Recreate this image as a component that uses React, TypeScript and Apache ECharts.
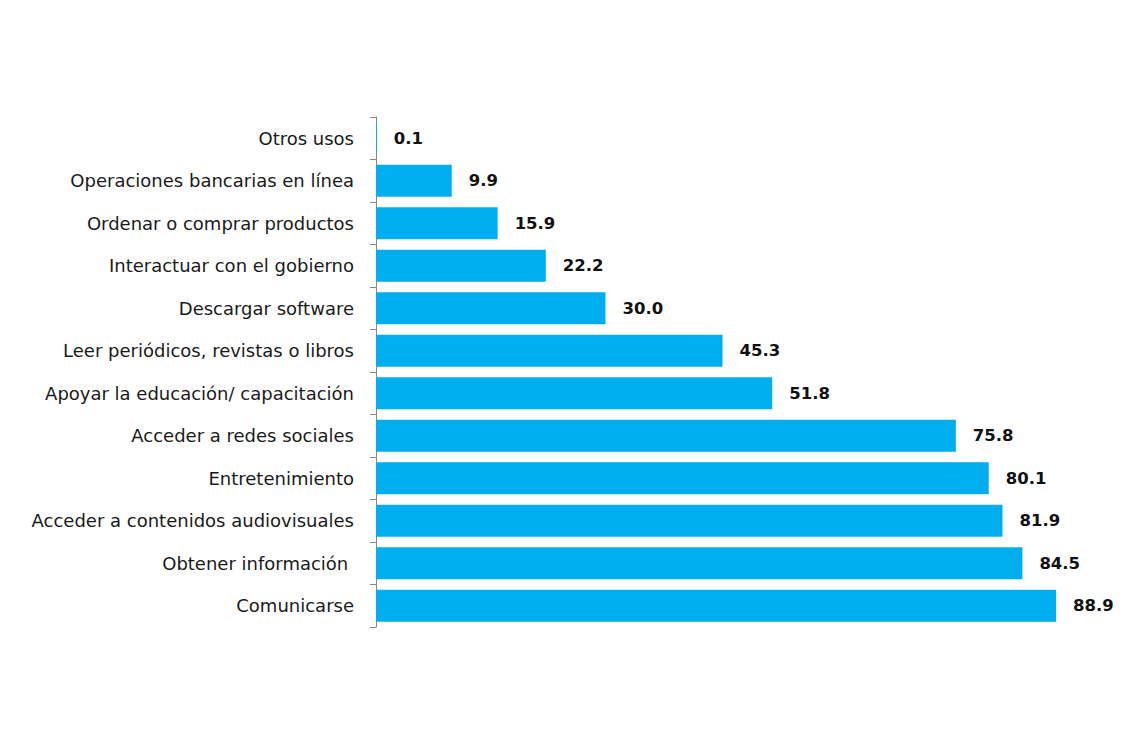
import React, { useEffect, useRef } from "react";
import * as echarts from "echarts";

const categories = [
  "Otros usos",
  "Operaciones bancarias en línea",
  "Ordenar o comprar productos",
  "Interactuar con el gobierno",
  "Descargar software",
  "Leer periódicos, revistas o libros",
  "Apoyar la educación/ capacitación",
  "Acceder a redes sociales",
  "Entretenimiento",
  "Acceder a contenidos audiovisuales",
  "Obtener información ",
  "Comunicarse",
];
const values = [0.1, 9.9, 15.9, 22.2, 30.0, 45.3, 51.8, 75.8, 80.1, 81.9, 84.5, 88.9];

export default function App() {
  const ref = useRef<HTMLDivElement>(null);
  useEffect(() => {
    const chart = echarts.init(ref.current!, null, { renderer: "svg" });
    chart.setOption({
      animation: false,
      backgroundColor: "#ffffff",
      grid: { left: 376, top: 117, width: 726.7, height: 510, containLabel: false },
      xAxis: {
        type: "value",
        min: 0,
        max: 95,
        show: false,
      },
      yAxis: {
        type: "category",
        data: categories,
        inverse: true,
        axisLine: { show: true, lineStyle: { color: "#888888", width: 1 } },
        axisTick: { show: true, length: 6, lineStyle: { color: "#888888" } },
        axisLabel: {
          margin: 22,
          color: "#1a1a1a",
          fontSize: 18,
          fontFamily: "DejaVu Sans",
        },
      },
      series: [
        {
          type: "bar",
          data: values,
          barCategoryGap: "25%",
          itemStyle: { color: "#00AEEF" },
          label: {
            show: true,
            position: "right",
            distance: 17,
            formatter: (p: any) => p.value.toFixed(1),
            fontWeight: "bold",
            fontSize: 16.5,
            color: "#111111",
            fontFamily: "DejaVu Sans",
          },
        },
      ],
    });
    return () => chart.dispose();
  }, []);
  return (
    <div
      ref={ref}
      style={{ position: "fixed", left: 0, top: 0, width: 1131, height: 744, background: "#fff" }}
    />
  );
}
